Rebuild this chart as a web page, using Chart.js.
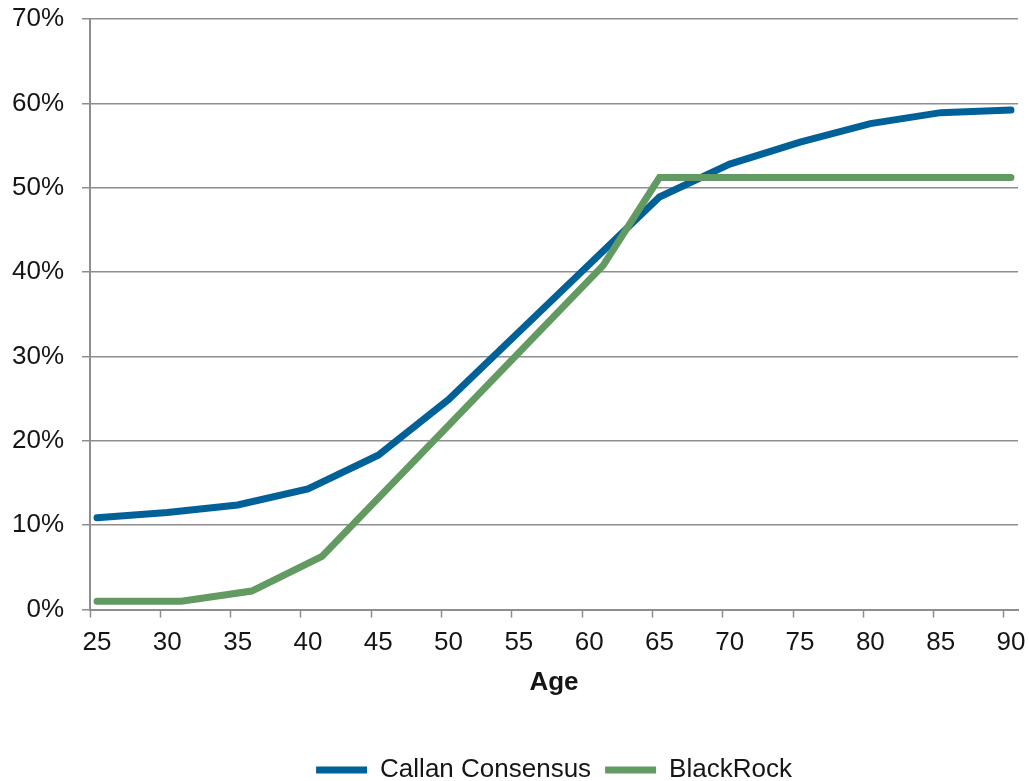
<!DOCTYPE html>
<html>
<head>
<meta charset="utf-8">
<script src="https://cdn.jsdelivr.net/npm/chart.js@4/dist/chart.umd.min.js"></script>
<style>
  html, body { margin: 0; padding: 0; background: #ffffff; }
  #wrap { width: 1029px; height: 781px; position: relative; }
</style>
</head>
<body>
<div id="wrap"><canvas id="chart" width="1029" height="781"></canvas></div>
<script>
// Category labels (ages)
const ageLabels = ['25','26','27','28','29','30','31','32','33','34','35','36','37','38','39','40','41','42','43','44','45','46','47','48','49','50','51','52','53','54','55','56','57','58','59','60','61','62','63','64','65','66','67','68','69','70','71','72','73','74','75','76','77','78','79','80','81','82','83','84','85','86','87','88','89','90'];

// Callan Consensus (%)
const callanAges   = ['25','30','35','40','45','50','55','60','65','70','75','80','85','90'];
const callanValues = [10.9, 11.5, 12.4, 14.3, 18.3, 24.9, 32.9, 40.9, 48.9, 52.8, 55.4, 57.6, 58.9, 59.2];

// BlackRock (%)
const blackRockAges   = ['25','31','36','41','61','65','90'];
const blackRockValues = [1.0, 1.0, 2.2, 6.3, 40.8, 51.2, 51.2];

// Y tick values (%)
const yTicks = [0, 10, 20, 30, 40, 50, 60, 70];

const seriesNames = ['Callan Consensus', 'BlackRock'];
const colors = ['#006198', '#629a62'];

const FONT = "'Liberation Sans', Arial, sans-serif";
const GRID = '#8e8e8e';
const TEXT = '#151515';

const toPoints = (xs, ys) => xs.map((x, i) => ({ x: x, y: ys[i] }));

new Chart(document.getElementById('chart'), {
  type: 'line',
  data: {
    labels: ageLabels,
    datasets: [
      {
        label: seriesNames[0],
        data: toPoints(callanAges, callanValues),
        borderColor: colors[0],
        backgroundColor: colors[0],
        borderWidth: 7,
        borderCapStyle: 'round',
        borderJoinStyle: 'miter',
        pointRadius: 0,
        tension: 0,
        order: 1
      },
      {
        label: seriesNames[1],
        data: toPoints(blackRockAges, blackRockValues),
        borderColor: colors[1],
        backgroundColor: colors[1],
        borderWidth: 7,
        borderCapStyle: 'round',
        borderJoinStyle: 'miter',
        pointRadius: 0,
        tension: 0,
        order: 0
      }
    ]
  },
  options: {
    responsive: false,
    animation: false,
    devicePixelRatio: 1,
    layout: { padding: { left: 12, right: 11, top: 19, bottom: -12 } },
    plugins: {
      tooltip: { enabled: false },
      legend: {
        position: 'bottom',
        fullSize: false,
        labels: {
          usePointStyle: true,
          pointStyle: 'line',
          pointStyleWidth: 51,
          boxHeight: 7,
          padding: 14,
          color: TEXT,
          font: { family: FONT, size: 26 },
          sort: (a, b) => a.datasetIndex - b.datasetIndex
        }
      }
    },
    scales: {
      x: {
        type: 'category',
        offset: true,
        afterFit: (scale) => { scale.paddingLeft = 0; scale.paddingRight = 0; },
        grid: {
          offset: true,
          drawOnChartArea: false,
          tickLength: 8,
          tickWidth: 1.5,
          tickColor: (ctx) => (ctx.index !== undefined && ctx.index % 5 === 0) ? GRID : 'rgba(0,0,0,0)'
        },
        border: { color: GRID, width: 2 },
        ticks: {
          autoSkip: false,
          maxRotation: 0,
          minRotation: 0,
          padding: 10,
          color: TEXT,
          font: { family: FONT, size: 26 },
          callback: function (value) {
            const lab = this.getLabelForValue(value);
            return Number(lab) % 5 === 0 ? lab : '';
          }
        },
        title: {
          display: true,
          text: 'Age',
          color: TEXT,
          font: { family: FONT, size: 26, weight: 'bold' },
          padding: { top: -2, bottom: 45 }
        }
      },
      y: {
        min: 0,
        max: 70,
        afterBuildTicks: (scale) => { scale.ticks = yTicks.map(v => ({ value: v })); },
        afterFit: (scale) => { scale.width = 78; scale.paddingTop = 0; scale.paddingBottom = 0; },
        grid: {
          color: GRID,
          lineWidth: 1.5,
          tickLength: 8,
          tickColor: GRID
        },
        border: { color: GRID, width: 2 },
        ticks: {
          padding: 18,
          color: TEXT,
          font: { family: FONT, size: 26 },
          callback: (v) => v + '%'
        }
      }
    }
  }
});
</script>
</body>
</html>
